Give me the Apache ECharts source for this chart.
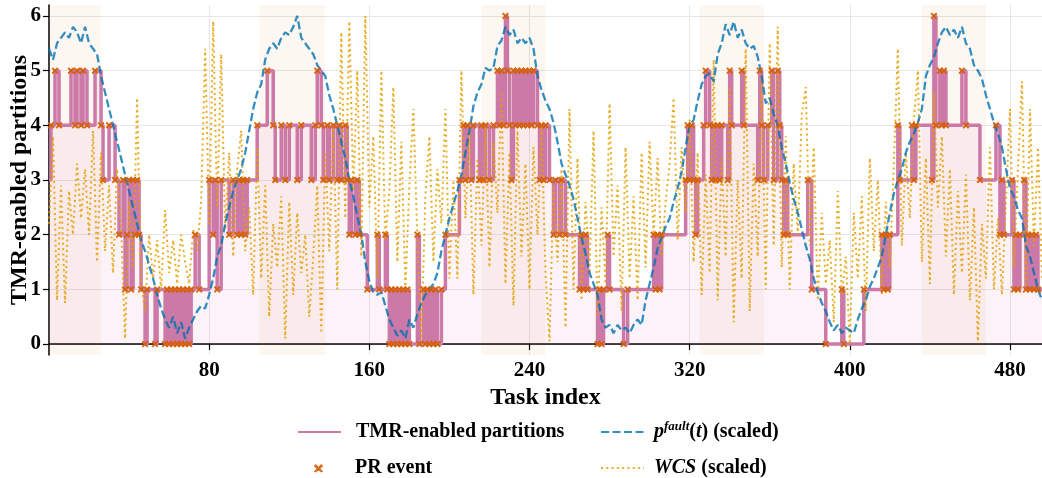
<!DOCTYPE html>
<html>
<head>
<meta charset="UTF-8">
<title>TMR-enabled partitions</title>
<script src="https://cdn.jsdelivr.net/npm/echarts@6/dist/echarts.min.js"></script>
<style>
  html, body { margin: 0; padding: 0; background: #fff; }
  #chart { width: 1042px; height: 478px; }
</style>
</head>
<body>
<div id="chart"></div>
<script>
// TMR level changes: [task index, number of TMR-enabled partitions]
var tmrSteps = [
  [0,3],[1,4],[3,5],[5,4],[11,5],[13,4],[14,5],[16,4],[17,5],[19,4],[23,5],[26,4],
  [27,3],[30,4],[33,3],
  [35,2],[37,3],[38,1],[39,2],[40,3],[41,1],[42,3],[43,2],[44,3],[45,2],[46,1],
  [48,0],[49,1],[53,0],[54,1],
  [58,0],[59,1],[60,0],[61,1],[62,0],[63,1],[64,0],[65,1],[66,0],[67,1],[68,0],[69,1],[70,0],[71,1],
  [73,2],[75,1],
  [80,3],[82,2],[83,3],[84,1],[86,3],[90,2],[92,3],[94,2],[95,3],[96,2],[97,3],[98,2],[99,3],
  [104,4],[109,5],[112,4],[113,3],[116,4],[118,3],[120,4],[124,3],[126,4],[131,3],[133,4],[134,5],
  [136,4],[137,3],[139,4],[140,3],[142,4],[144,3],[145,4],[146,3],[148,4],
  [149,3],[150,2],[151,3],[153,2],[154,3],[155,2],
  [159,1],[164,2],[165,1],[168,2],[169,1],
  [170,0],[171,1],[172,0],[173,1],[174,0],[175,1],[176,0],[177,1],[178,0],[179,1],[180,0],
  [184,2],[185,0],[187,1],[188,0],[189,1],[190,0],[191,1],[192,0],[193,1],[194,0],[196,1],
  [198,2],[205,3],
  [207,4],[208,3],[209,4],[211,3],[212,4],[215,3],[216,4],[217,3],[218,4],[220,3],[222,4],
  [224,5],[225,4],[226,5],[227,4],[228,6],[229,5],[230,4],[231,3],[232,5],[233,4],[234,5],[235,4],[236,5],
  [237,4],[238,5],[239,4],[240,5],[241,4],[242,5],[244,4],
  [245,3],[246,4],[247,3],[248,4],[250,3],
  [252,2],[253,3],[255,2],[256,3],[258,2],
  [265,1],[266,2],[267,1],[268,2],[269,1],
  [274,0],[275,1],[276,0],[277,1],[279,2],[280,1],[287,0],[289,1],
  [302,2],[303,1],[304,2],[305,1],[306,2],
  [318,3],[319,4],[320,3],[321,4],[322,3],[323,2],[324,3],
  [327,4],[328,5],[330,4],[331,3],[332,4],[333,3],[334,4],[335,3],[336,4],[339,3],[340,5],[341,4],
  [346,5],[347,4],[354,3],[355,5],[356,4],[357,3],[359,4],[361,5],[362,3],[364,5],[365,4],[366,3],
  [367,2],[368,3],[369,2],
  [379,3],[381,1],[388,0],[396,1],[397,0],[407,1],
  [416,2],[417,1],[418,2],[419,1],[420,2],
  [424,4],[425,3],[431,4],[432,3],[433,4],
  [441,3],[442,6],[443,4],[445,5],[446,4],[447,5],[448,4],[456,5],[458,4],[465,3],[473,4],[475,2],[476,3],[477,2],
  [481,3],[482,1],[483,2],[484,1],[485,2],[487,3],[488,1],[489,2],[490,1],[491,2],[492,1],[493,2],[494,1]
];

// p_fault(t) scaled, one value every 2 tasks (task 0, 2, 4, ...)
var pfault = [
  5.4,5.2,5.5,5.6,5.7,5.6,5.8,5.7,5.5,5.8, 5.5,5.4,5.3,4.9,4.6,4.3,4.0,3.7,3.4,3.1,
  2.8,2.5,2.2,1.9,1.7,1.45,1.2,0.9,0.65,0.45, 0.3,0.5,0.2,0.4,0.1,0.3,0.45,0.6,0.7,0.65,
  0.9,1.2,1.6,1.8,2.2,2.5,2.8,3.0,3.2,3.5, 3.9,4.3,4.6,4.75,5.2,5.4,5.5,5.4,5.6,5.7,
  5.65,5.8,6.0,5.6,5.5,5.4,5.3,5.1,5.0,4.9, 4.55,4.3,4.0,3.7,3.4,3.0,2.7,2.35,2.0,1.5,
  1.15,0.95,0.9,0.95,0.7,0.45,0.3,0.15,0.25,0.1, 0.45,0.3,0.55,0.75,0.9,1.0,1.1,1.3,1.7,2.0,
  2.3,2.55,2.8,3.1,3.5,3.9,4.35,4.6,4.75,5.05, 5.0,5.05,5.45,5.55,5.8,5.65,5.75,5.5,5.6,5.5,
  5.6,5.4,4.9,4.65,4.45,4.3,4.05,3.7,3.3,3.1, 2.9,2.65,2.3,1.95,1.65,1.3,1.1,0.9,0.45,0.3,
  0.35,0.2,0.35,0.25,0.3,0.2,0.35,0.45,0.35,0.8, 1.1,1.4,1.75,1.95,2.15,2.3,2.6,2.85,3.15,3.6,
  4.0,4.1,4.45,4.75,4.9,4.95,4.8,5.3,5.5,5.85, 5.65,5.9,5.6,5.75,5.5,5.4,5.45,5.25,4.9,4.4,
  4.5,4.2,4.0,3.6,3.3,2.95,2.65,2.4,2.1,1.8, 1.55,1.2,0.95,0.75,0.6,0.4,0.25,0.35,0.2,0.3,
  0.25,0.2,0.45,0.65,0.8,1.05,1.2,1.4,1.6,2.0, 2.4,2.75,3.0,3.2,3.5,3.7,3.85,4.05,4.3,4.9,
  5.1,5.25,5.5,5.7,5.8,5.65,5.75,5.6,5.8,5.5, 5.4,5.1,5.0,4.85,4.55,4.3,4.05,3.85,3.6,3.2,
  2.85,2.7,2.45,2.3,1.8,1.6,1.3,1.0,0.8
];

// WCS scaled, one value every 2 tasks
var wcs = [
  2.2,3.8,0.8,2.9,0.75,2.8,2.0,3.3,2.3,3.2,
  2.0,3.9,1.5,3.5,1.7,2.9,1.3,3.2,2.2,0.1,
  2.6,1.4,4.5,1.1,0.6,2.0,1.2,1.9,1.0,2.45,
  1.3,1.9,1.1,2.0,1.5,1.1,2.1,1.7,2.6,5.4,
  2.2,5.9,2.5,5.3,2.1,3.5,1.6,3.2,3.9,1.7,
  2.5,0.9,3.6,1.2,2.9,0.5,2.2,1.4,2.7,0.1,
  2.6,0.9,2.4,1.3,2.0,0.5,1.6,2.9,0.2,3.5,
  1.7,4.0,1.0,5.7,2.3,5.9,2.8,5.0,1.6,6.0,
  2.5,3.8,1.2,5.0,1.9,2.8,4.7,1.5,3.7,1.0,
  2.9,4.3,1.9,0.1,2.7,3.8,1.5,3.2,2.2,4.3,
  1.2,3.0,1.2,5.0,2.3,3.9,0.9,3.4,1.8,4.0,
  1.4,3.7,2.4,4.6,1.1,3.5,0.7,3.9,1.6,3.3,
  1.0,3.6,2.0,4.0,1.3,0.05,2.9,1.5,3.2,0.3,
  4.3,1.0,3.4,0.8,2.6,1.3,3.9,0.5,2.5,1.1,
  4.4,1.6,2.9,0.6,3.6,1.2,2.7,0.8,3.5,1.4,
  3.7,2.0,3.4,1.6,2.6,3.3,4.5,1.9,3.6,2.4,
  4.1,1.5,3.5,0.9,3.1,1.3,5.2,0.8,3.4,1.6,
  4.7,0.4,3.0,1.2,5.4,0.6,3.3,1.6,4.9,1.0,
  5.5,1.8,5.8,1.4,3.8,1.0,3.3,2.0,4.2,4.7,
  1.8,3.6,0.8,2.4,1.1,1.9,0.4,2.8,0.9,1.6,
  0.0,2.4,1.2,2.7,0.6,3.4,1.7,3.0,0.9,2.6,
  1.4,3.3,5.4,1.8,3.5,2.3,4.1,5.0,1.5,3.4,
  1.1,4.6,2.5,3.8,1.6,3.2,0.9,2.8,1.3,3.1,
  0.8,2.5,0.05,2.2,1.2,3.6,1.0,2.3,0.9,2.6,
  4.3,1.4,3.2,4.8,1.0,4.3,1.8,3.6,1.2
];

// shaded high-fault windows
var bandStart = [0, 105, 216, 325, 436];
var bandEnd = [26, 138, 248, 357, 468];

var xTicks = [80, 160, 240, 320, 400, 480];
var yTicks = [0, 1, 2, 3, 4, 5, 6];

var X_MAX = 496;
var FONT = 'Liberation Serif';

var tmrLine = tmrSteps.concat([[X_MAX, tmrSteps[tmrSteps.length - 1][1]]]);
var prEvents = tmrSteps.slice(1);
var pfaultData = pfault.map(function (v, i) { return [i * 2, v]; });
var wcsData = wcs.map(function (v, i) { return [i * 2, v]; });
var bands = bandStart.map(function (s, i) { return [{ xAxis: s }, { xAxis: bandEnd[i] }]; });

var crossPath = 'path://M2,0 L5,3 L8,0 L10,2 L7,5 L10,8 L8,10 L5,7 L2,10 L0,8 L3,5 L0,2 Z';
// same cross, centred in a 43x9 legend slot (tiny corner dots fix the bounds)
var crossLegend = 'path://M0,0 L0.01,0 L0,0.01 Z M43,9 L42.99,9 L43,8.99 Z ' +
  'M18.7,0.5 L21.5,3.3 L24.3,0.5 L26.2,2.4 L23.4,5.2 L26.2,8 L24.3,9 L21.5,7.1 L18.7,9 L16.8,8 L19.6,5.2 L16.8,2.4 Z';

var legendText = { fontFamily: FONT, fontWeight: 'bold', fontSize: 20, color: '#000', lineHeight: 24 };
var richText = {
  i: { fontFamily: FONT, fontWeight: 'bold', fontStyle: 'italic', fontSize: 20, lineHeight: 24, color: '#000' },
  n: { fontFamily: FONT, fontWeight: 'bold', fontSize: 20, lineHeight: 24, color: '#000' },
  s: { fontFamily: FONT, fontWeight: 'bold', fontStyle: 'italic', fontSize: 13, lineHeight: 14, verticalAlign: 'top', color: '#000' }
};

function legendBox(item, left, top, gap, hideSymbol) {
  var l = {
    left: left, top: top, padding: 0,
    itemWidth: 43, itemHeight: 9,
    data: [item],
    textStyle: Object.assign({}, legendText, { padding: [0, 0, 0, gap], rich: richText })
  };
  if (hideSymbol) l.itemStyle = { opacity: 0 };
  return l;
}

var legends = [
  legendBox('TMR-enabled partitions', 297, 420, 10, true),
  legendBox({ name: 'PR event', icon: crossLegend }, 297, 456, 10, false),
  legendBox('pfault', 600, 420, 5, true),
  legendBox('WCS', 600, 456, 5, true)
];
legends[2].formatter = function () { return '{i|p}{s|fault}{n|(}{i|t}{n|) (scaled)}'; };
legends[3].formatter = function () { return '{i|WCS}{n| (scaled)}'; };

var chart = echarts.init(document.getElementById('chart'));
var option = {
  animation: false,
  backgroundColor: '#fff',
  grid: { left: 49, right: 0, top: 5, bottom: 123, containLabel: false, outerBoundsMode: 'none' },
  xAxis: {
    type: 'value',
    min: 0,
    max: X_MAX,
    name: 'Task index',
    nameLocation: 'middle',
    nameGap: 31,
    nameMoveOverlap: false,
    nameTextStyle: { fontFamily: FONT, fontWeight: 'bold', fontSize: 24, color: '#000' },
    axisLine: { show: true, lineStyle: { color: '#000', width: 1.5 } },
    axisTick: { show: true, length: 6, customValues: xTicks, lineStyle: { color: '#000', width: 1.2 } },
    axisLabel: { customValues: xTicks, margin: 5, fontFamily: FONT, fontWeight: 'bold', fontSize: 21, color: '#000' },
    splitLine: { show: true, lineStyle: { color: '#e6e6e6', width: 1 } }
  },
  yAxis: {
    type: 'value',
    min: -0.2,
    max: 6.2,
    name: 'TMR-enabled partitions',
    nameLocation: 'middle',
    nameGap: 17,
    nameMoveOverlap: false,
    nameTextStyle: { fontFamily: FONT, fontWeight: 'bold', fontSize: 24, color: '#000' },
    axisLine: { show: true, lineStyle: { color: '#000', width: 1.5 } },
    axisTick: { show: true, length: 6, customValues: yTicks, lineStyle: { color: '#000', width: 1.2 } },
    axisLabel: { customValues: yTicks, margin: 8, fontFamily: FONT, fontWeight: 'bold', fontSize: 21, color: '#000' },
    splitLine: { show: true, lineStyle: { color: '#e6e6e6', width: 1 } }
  },
  legend: legends,
  series: [
    {
      name: 'TMR-enabled partitions',
      type: 'line',
      step: 'end',
      data: tmrLine,
      symbol: 'none',
      z: 2,
      lineStyle: { color: '#CC79A7', width: 3.5 },
      itemStyle: { color: '#CC79A7' },
      areaStyle: { color: 'rgba(204,121,167,0.12)', origin: 0 },
      markArea: {
        silent: true,
        itemStyle: { color: 'rgba(213,94,0,0.05)' },
        data: bands
      }
    },
    {
      name: 'WCS',
      type: 'line',
      data: wcsData,
      symbol: 'none',
      z: 3,
      lineStyle: { color: 'rgba(230,159,0,0.85)', width: 2, type: [2, 3.3] },
      itemStyle: { color: 'rgba(230,159,0,0.85)' }
    },
    {
      name: 'pfault',
      type: 'line',
      data: pfaultData,
      symbol: 'none',
      z: 4,
      lineStyle: { color: 'rgba(0,114,178,0.8)', width: 2.3, type: [8, 3.5] },
      itemStyle: { color: 'rgba(0,114,178,0.8)' }
    },
    {
      name: 'PR event',
      type: 'scatter',
      data: prEvents,
      symbol: crossPath,
      symbolSize: 7,
      z: 5,
      itemStyle: { color: '#D55E00', opacity: 0.9 }
    }
  ]
};
chart.setOption(option);
</script>
</body>
</html>
